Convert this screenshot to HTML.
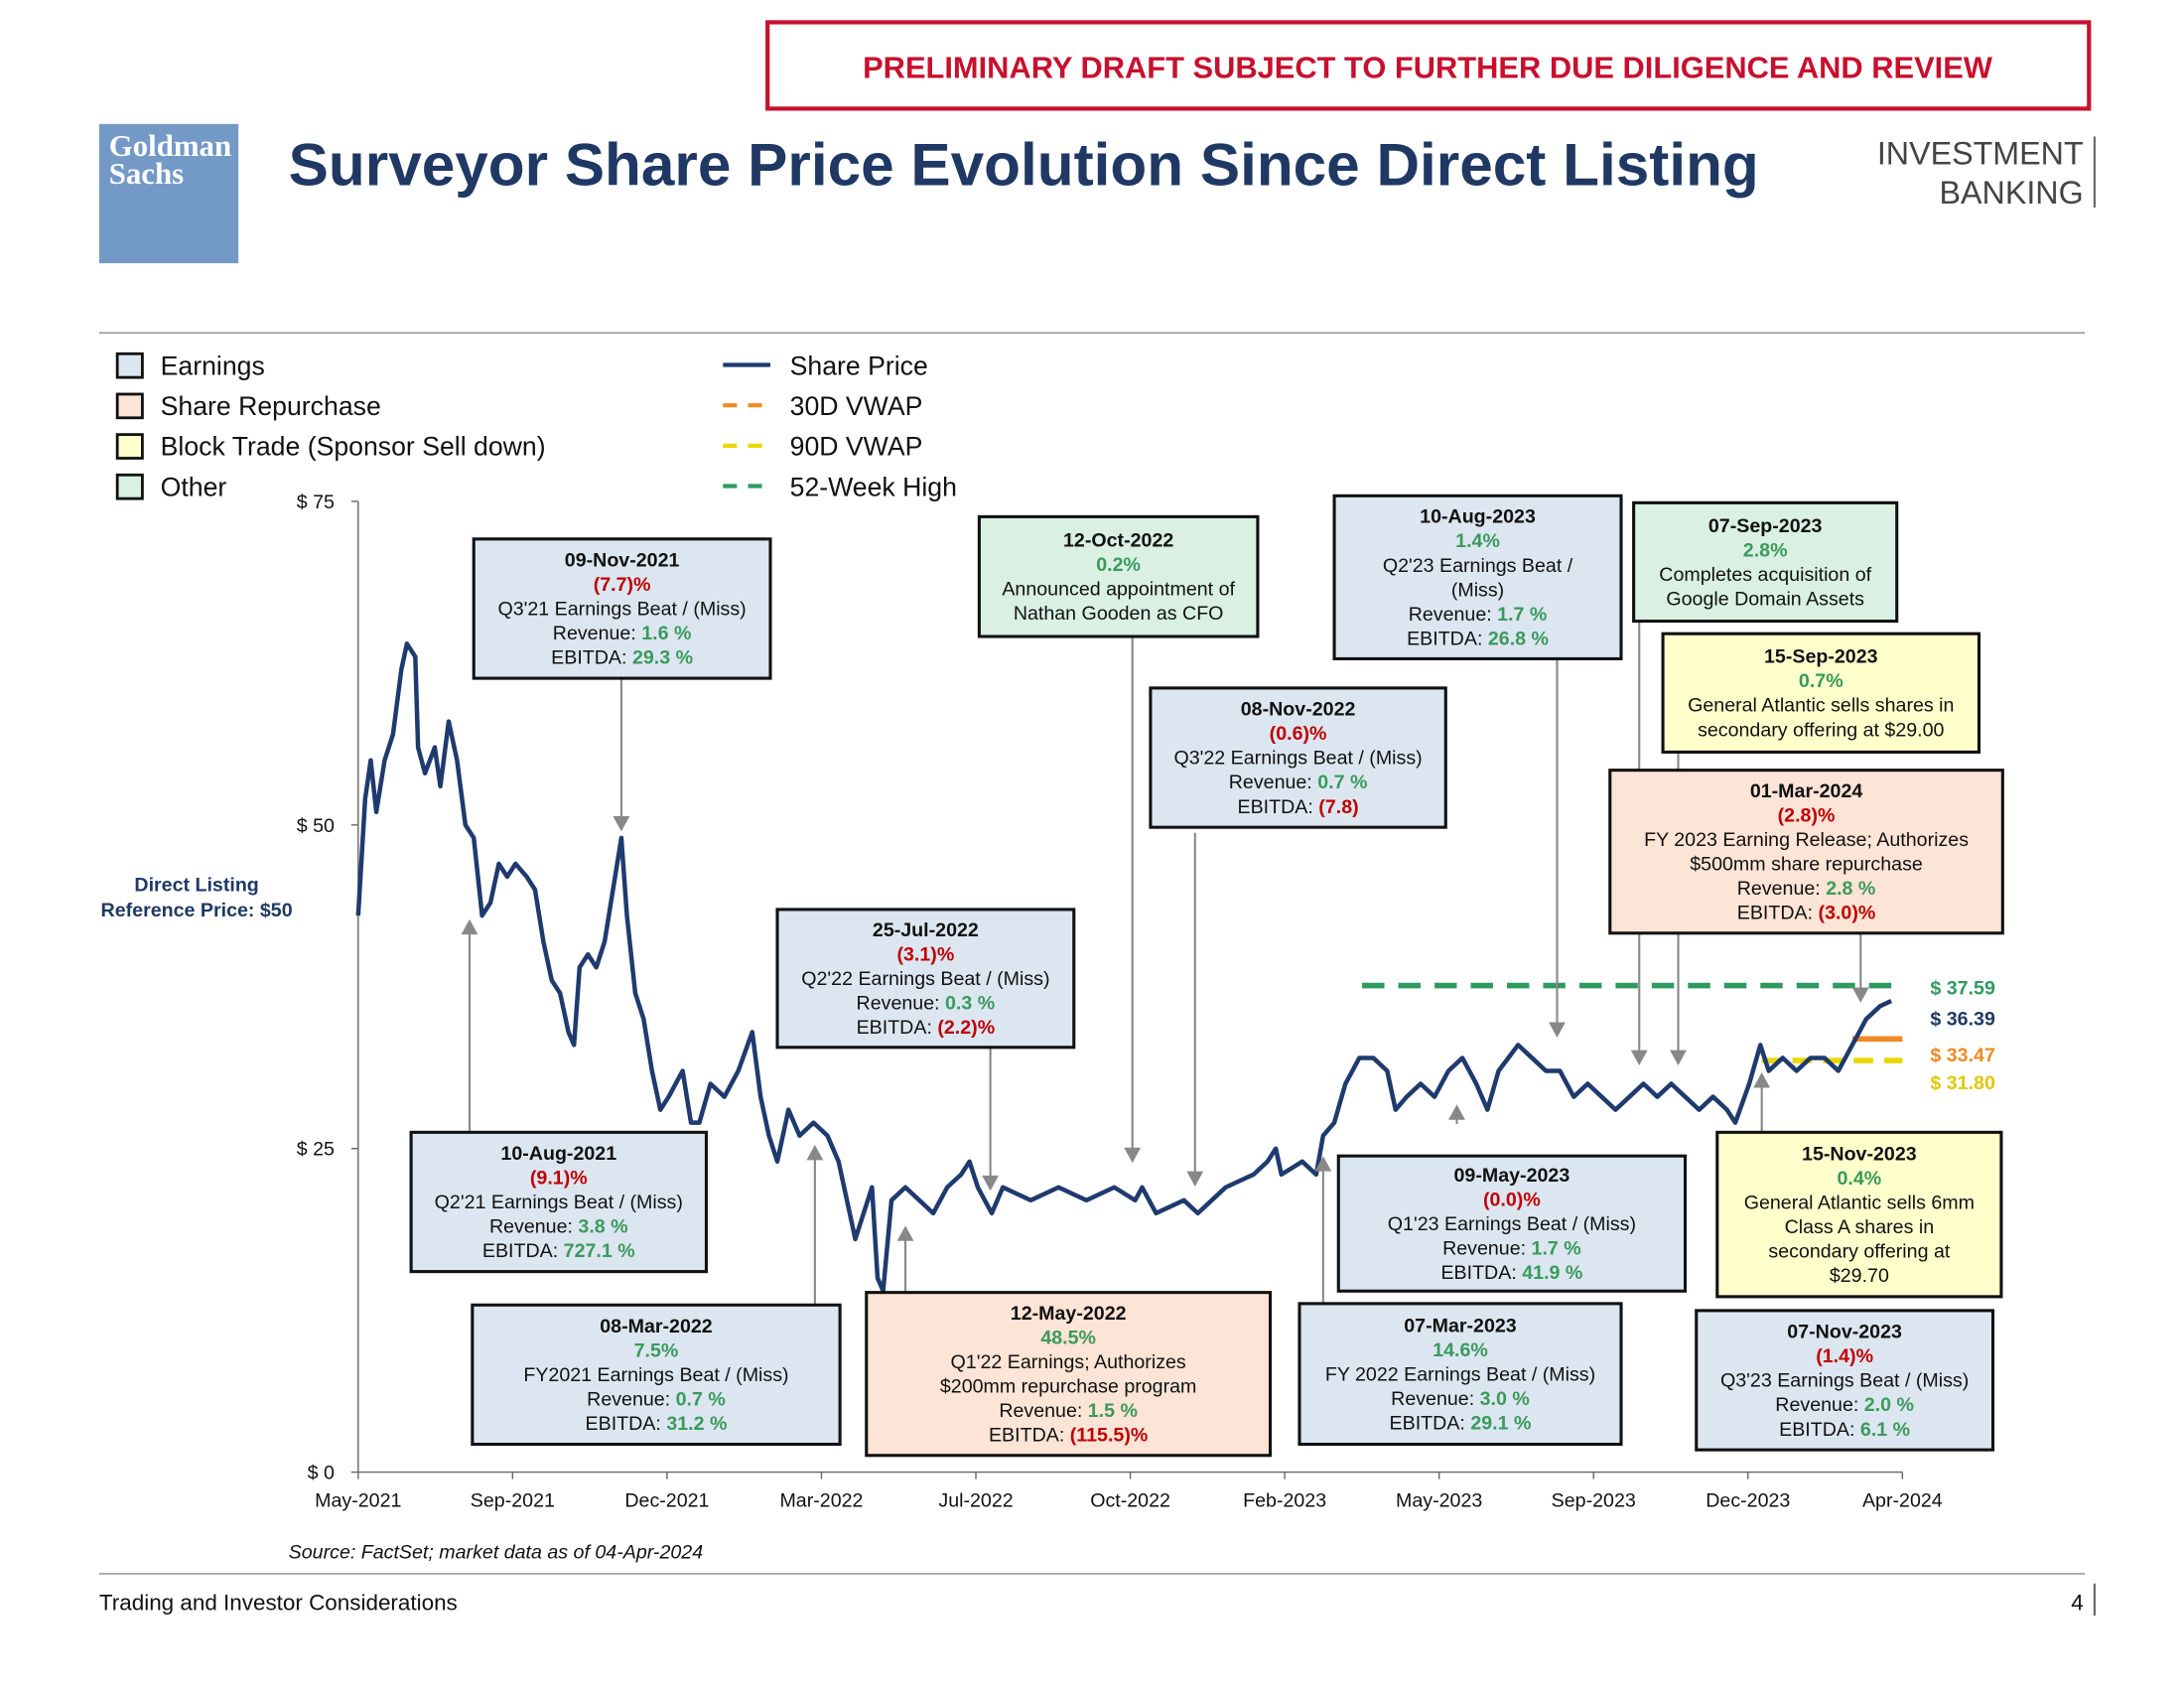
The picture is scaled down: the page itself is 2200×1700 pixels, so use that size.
<!DOCTYPE html>
<html><head><meta charset="utf-8"><style>
html,body{margin:0;padding:0;background:#fff;}
svg{display:block;font-family:"Liberation Sans",Arial,sans-serif;}
</style></head><body>
<svg id="root" width="2200" height="1700" viewBox="0 0 1568 1212" xmlns="http://www.w3.org/2000/svg">
<rect x="551" y="16" width="949" height="62" fill="#fff" stroke="#C8102E" stroke-width="3"/>
<text x="1025" y="56" text-anchor="middle" font-size="22" font-weight="bold" fill="#C8102E">PRELIMINARY DRAFT SUBJECT TO FURTHER DUE DILIGENCE AND REVIEW</text>
<rect x="71" y="89" width="100" height="100" fill="#7399C6"/>
<text x="78" y="112" font-family="Liberation Serif,serif" font-size="22" font-weight="bold" fill="#fff">Goldman</text>
<text x="78" y="132" font-family="Liberation Serif,serif" font-size="22" font-weight="bold" fill="#fff">Sachs</text>
<text x="207" y="133" font-size="43" font-weight="bold" fill="#1F3864">Surveyor Share Price Evolution Since Direct Listing</text>
<text x="1496" y="118" text-anchor="end" font-size="23" fill="#444">INVESTMENT</text>
<text x="1496" y="146" text-anchor="end" font-size="23" fill="#444">BANKING</text>
<line x1="1504" y1="98" x2="1504" y2="149" stroke="#666" stroke-width="1.5"/>
<line x1="71" y1="239" x2="1497" y2="239" stroke="#888" stroke-width="1"/>

<g>
<rect x="84" y="254" width="18" height="17" fill="#DCE6F1" stroke="#111" stroke-width="2"/>
<text x="115" y="269" font-size="19" fill="#111">Earnings</text>
<rect x="84" y="283" width="18" height="17" fill="#FCE4D6" stroke="#111" stroke-width="2"/>
<text x="115" y="298" font-size="19" fill="#111">Share Repurchase</text>
<rect x="84" y="312" width="18" height="17" fill="#FFFFCC" stroke="#111" stroke-width="2"/>
<text x="115" y="327" font-size="19" fill="#111">Block Trade (Sponsor Sell down)</text>
<rect x="84" y="341" width="18" height="17" fill="#D9F0E3" stroke="#111" stroke-width="2"/>
<text x="115" y="356" font-size="19" fill="#111">Other</text>
</g>
<g>
<line x1="519" y1="262" x2="553" y2="262" stroke="#1F3A6E" stroke-width="3"/>
<text x="567" y="269" font-size="19" fill="#111">Share Price</text>
<line x1="519" y1="291" x2="553" y2="291" stroke="#F08A24" stroke-width="3" stroke-dasharray="10,8"/>
<text x="567" y="298" font-size="19" fill="#111">30D VWAP</text>
<line x1="519" y1="320" x2="553" y2="320" stroke="#E8D800" stroke-width="3" stroke-dasharray="10,8"/>
<text x="567" y="327" font-size="19" fill="#111">90D VWAP</text>
<line x1="519" y1="349" x2="553" y2="349" stroke="#2E9A5E" stroke-width="3" stroke-dasharray="10,8"/>
<text x="567" y="356" font-size="19" fill="#111">52-Week High</text>
</g>

<text x="141" y="640" text-anchor="middle" font-size="14" font-weight="bold" fill="#1F3864">Direct Listing</text>
<text x="141" y="658" text-anchor="middle" font-size="14" font-weight="bold" fill="#1F3864">Reference Price: $50</text>

<g id="plot"></g>
<g id="annots"></g>

<text x="207" y="1119" font-size="14" font-style="italic" fill="#111">Source:  FactSet; market data as of 04-Apr-2024</text>
<line x1="71" y1="1130" x2="1497" y2="1130" stroke="#888" stroke-width="1"/>
<text x="71" y="1156" font-size="16" fill="#111">Trading and Investor Considerations</text>
<text x="1496" y="1156" text-anchor="end" font-size="16" fill="#111">4</text>
<line x1="1504" y1="1137" x2="1504" y2="1160" stroke="#666" stroke-width="1.5"/>
</svg>
<script>
const NS="http://www.w3.org/2000/svg";
// chart data
const xTickLabels=["May-2021","Sep-2021","Dec-2021","Mar-2022","Jul-2022","Oct-2022","Feb-2023","May-2023","Sep-2023","Dec-2023","Apr-2024"];
const yTickValues=[0,25,50,75];
const days=[0,5,9,13,19,25,31,35,41,43,48,55,59,65,71,77,83,89,95,101,107,113,121,127,133,139,145,151,155,159,165,171,177,183,189,193,199,205,211,217,223,233,239,245,253,263,273,283,289,295,301,309,317,327,337,345,351,357,363,369,373,377,383,393,403,413,423,433,439,445,455,463,483,503,523,543,558,563,573,593,603,613,623,643,653,659,663,678,688,693,701,709,719,729,739,745,753,763,773,783,793,803,811,819,833,843,853,863,873,883,893,903,913,923,933,943,953,963,973,983,989,999,1007,1013,1023,1033,1043,1053,1063,1073,1083,1093,1101];
const prices=[43,52,55,51,55,57,62,64,63,56,54,56,53,58,55,50,49,43,44,47,46,47,46,45,41,38,37,34,33,39,40,39,41,45,49,43,37,35,31,28,29,31,27,27,30,29,31,34,29,26,24,28,26,27,26,24,21,18,20,22,15,14,21,22,21,20,22,23,24,22,20,22,21,22,21,22,21,22,20,21,20,21,22,23,24,25,23,24,23,26,27,30,32,32,31,28,29,30,29,31,32,30,28,31,33,32,31,31,29,30,29,28,29,30,29,30,29,28,29,28,27,30,33,31,32,31,32,32,31,33,35,36,36.4];
const high52=37.59, vwap30=33.47, vwap90=31.80, lastPrice=36.39;
const X0=257,X1=1366,Y0=1057,Y1=360,DMAX=1109,VMAX=75;
const xs=d=>X0+(d/DMAX)*(X1-X0);
const ys=v=>Y0-(v/VMAX)*(Y0-Y1);
const xTick=i=>X0+i*(X1-X0)/(xTickLabels.length-1);
const plot=document.getElementById('plot');
function mk(tag,attrs,parent){const e=document.createElementNS(NS,tag);for(const k in attrs)e.setAttribute(k,attrs[k]);(parent||plot).appendChild(e);return e;}
let e=mk('line',{x1:X0,y1:Y1,x2:X0,y2:Y0,stroke:'#666','stroke-width':1});


e=mk('line',{x1:X0,y1:Y0,x2:X1,y2:Y0,stroke:'#666','stroke-width':1});


yTickValues.forEach(v=>{
  const t=mk('line',{x1:X0-5,y1:ys(v),x2:X0,y2:ys(v),stroke:'#666'});
  
  
  const l=mk('text',{x:240,y:ys(v)+5,'text-anchor':'end','font-size':14,fill:'#111'});
  l.textContent='$ '+v;
  
  
});
xTickLabels.forEach((s,i)=>{
  const t=mk('line',{x1:xTick(i),y1:Y0,x2:xTick(i),y2:Y0+5,stroke:'#666'});
  
  
  const l=mk('text',{x:xTick(i),y:1082,'text-anchor':'middle','font-size':14,fill:'#111'});
  l.textContent=s;
  
  
});
// reference lines
e=mk('line',{x1:978,y1:ys(high52),x2:X1,y2:ys(high52),stroke:'#2E9A5E','stroke-width':4,'stroke-dasharray':'16,10'});


e=mk('line',{x1:1265,y1:ys(vwap90),x2:X1,y2:ys(vwap90),stroke:'#E8D800','stroke-width':4,'stroke-dasharray':'14,8'});


e=mk('line',{x1:1330,y1:ys(vwap30),x2:X1,y2:ys(vwap30),stroke:'#F08A24','stroke-width':4});


// price line
let d='';days.forEach((dd,i)=>{d+=(i?'L':'M')+xs(dd).toFixed(1)+','+ys(prices[i]).toFixed(1);});
e=mk('path',{d:d,fill:'none',stroke:'#1F3A6E','stroke-width':3.2,'stroke-linejoin':'round'});


// value labels
[[high52,'#2E9A5E',709,'high'],[lastPrice,'#1F3864',731,'last'],[vwap30,'#F08A24',757,'vwap30'],[vwap90,'#E0C800',777,'vwap90']].forEach(a=>{
  const t=mk('text',{x:1386,y:a[2]+5,'font-size':14,'font-weight':'bold',fill:a[1]});
  t.textContent='$ '+a[0].toFixed(2);
  
  
});
// annotations
const FILL={e:'#DCE6F1',r:'#FCE4D6',b:'#FFFFCC',o:'#D9F0E3'};
const G='#3A9A5B',R='#C00000';
const boxes=[
 ['nov-2021',340,387,553,487,'e',[['09-Nov-2021','b'],['(7.7)%',R],'Q3\'21 Earnings Beat / (Miss)',['Revenue: ','1.6 %',G],['EBITDA: ','29.3 %',G]],[446,487,446,597]],
 ['oct-2022',703,371,903,457,'o',[['12-Oct-2022','b'],['0.2%',G],'Announced appointment of','Nathan Gooden as CFO'],[813,457,813,835]],
 ['aug-2023',958,356,1164,473,'e',[['10-Aug-2023','b'],['1.4%',G],'Q2\'23 Earnings Beat /','(Miss)',['Revenue: ','1.7 %',G],['EBITDA: ','26.8 %',G]],[1118,473,1118,745]],
 ['sep-2023-acq',1173,361,1362,446,'o',[['07-Sep-2023','b'],['2.8%',G],'Completes acquisition of','Google Domain Assets'],[1177,446,1177,765]],
 ['sep-2023-block',1194,455,1421,540,'b',[['15-Sep-2023','b'],['0.7%',G],'General Atlantic sells shares in','secondary offering at $29.00'],[1205,540,1205,765]],
 ['nov-2022',826,494,1038,594,'e',[['08-Nov-2022','b'],['(0.6)%',R],'Q3\'22 Earnings Beat / (Miss)',['Revenue: ','0.7 %',G],['EBITDA: ','(7.8)',R]],[858,598,858,852]],
 ['mar-2024',1156,553,1438,670,'r',[['01-Mar-2024','b'],['(2.8)%',R],'FY 2023 Earning Release; Authorizes','$500mm share repurchase',['Revenue: ','2.8 %',G],['EBITDA: ','(3.0)%',R]],[1336,670,1336,720]],
 ['jul-2022',558,653,771,752,'e',[['25-Jul-2022','b'],['(3.1)%',R],'Q2\'22 Earnings Beat / (Miss)',['Revenue: ','0.3 %',G],['EBITDA: ','(2.2)%',R]],[711,752,711,855]],
 ['aug-2021',295,813,507,913,'e',[['10-Aug-2021','b'],['(9.1)%',R],'Q2\'21 Earnings Beat / (Miss)',['Revenue: ','3.8 %',G],['EBITDA: ','727.1 %',G]],[337,813,337,660]],
 ['mar-2022',339,937,603,1037,'e',[['08-Mar-2022','b'],['7.5%',G],'FY2021 Earnings Beat / (Miss)',['Revenue: ','0.7 %',G],['EBITDA: ','31.2 %',G]],[585,937,585,822]],
 ['may-2022',622,928,912,1045,'r',[['12-May-2022','b'],['48.5%',G],'Q1\'22 Earnings; Authorizes','$200mm repurchase program',['Revenue: ','1.5 %',G],['EBITDA: ','(115.5)%',R]],[650,928,650,880]],
 ['may-2023',961,830,1210,927,'e',[['09-May-2023','b'],['(0.0)%',R],'Q1\'23 Earnings Beat / (Miss)',['Revenue: ','1.7 %',G],['EBITDA: ','41.9 %',G]],[1046,807,1046,793]],
 ['mar-2023',933,936,1164,1037,'e',[['07-Mar-2023','b'],['14.6%',G],'FY 2022 Earnings Beat / (Miss)',['Revenue: ','3.0 %',G],['EBITDA: ','29.1 %',G]],[950,936,950,830]],
 ['nov-2023-block',1233,813,1437,931,'b',[['15-Nov-2023','b'],['0.4%',G],'General Atlantic sells 6mm','Class A shares in','secondary offering at','$29.70'],[1265,823,1265,770]],
 ['nov-2023',1218,941,1431,1041,'e',[['07-Nov-2023','b'],['(1.4)%',R],'Q3\'23 Earnings Beat / (Miss)',['Revenue: ','2.0 %',G],['EBITDA: ','6.1 %',G]],null]
];
const ann=document.getElementById('annots');
boxes.forEach(b=>{
  const [nm,x1,y1,x2,y2,k,lines,arr]=b;
  const g=mk('g',{},ann);
  
  
  if(arr){
    const [ax1,ay1,ax2,ay2]=arr;
    const up=ay2<ay1;
    const ln=mk('line',{x1:ax1,y1:ay1,x2:ax2,y2:up?ay2+10:ay2-10,stroke:'#888','stroke-width':1.5},g);
    
    
    const p=up?`${ax2-6},${ay2+11} ${ax2+6},${ay2+11} ${ax2},${ay2}`:`${ax2-6},${ay2-11} ${ax2+6},${ay2-11} ${ax2},${ay2}`;
    const h=mk('polygon',{points:p,fill:'#888'},g);
    
    
  }
  const r=mk('rect',{x:x1,y:y1,width:x2-x1,height:y2-y1,fill:FILL[k],stroke:'#111','stroke-width':2.2},g);
  
  
  const cx=(x1+x2)/2, lh=17.5;
  const total=lines.length*lh;
  let y=(y1+y2)/2-total/2+13.5;
  lines.forEach(L=>{
    const t=mk('text',{x:cx,y:y,'text-anchor':'middle','font-size':14,fill:'#111'},g);
    
    
    if(typeof L==='string'){t.textContent=L;}
    else if(L.length===2){t.textContent=L[0];if(L[1]==='b')t.setAttribute('font-weight','bold');else{t.setAttribute('fill',L[1]);t.setAttribute('font-weight','bold');}}
    else{const s1=document.createElementNS(NS,'tspan');s1.textContent=L[0];t.appendChild(s1);
      const s2=document.createElementNS(NS,'tspan');s2.textContent=L[1];s2.setAttribute('fill',L[2]);s2.setAttribute('font-weight','bold');t.appendChild(s2);}
    y+=lh;
  });
});
</script>
</body></html>
